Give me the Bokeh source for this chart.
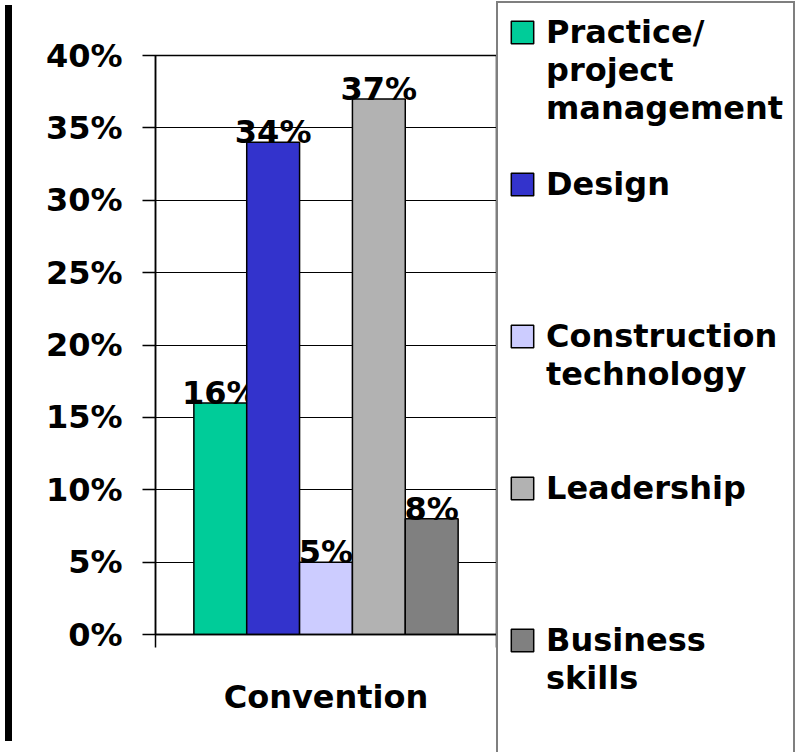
from bokeh.plotting import figure
from bokeh.models import (FactorRange, Range1d, CategoricalAxis, LinearAxis, FixedTicker,
                          NumeralTickFormatter, Legend, LegendItem, ColumnDataSource, Div)
from bokeh.transform import dodge
from bokeh.layouts import row
from bokeh.core.properties import value
from bokeh.embed import file_html
from bokeh.resources import INLINE

# ---- data ----
categories = ["Convention"]
series = ["Practice/\nproject\nmanagement", "Design", "Construction\ntechnology",
          "Leadership", "Business\nskills"]
values = [0.16, 0.34, 0.05, 0.37, 0.08]
colors = ["#00CC99", "#3333CC", "#CCCCFF", "#B2B2B2", "#808080"]
y_ticks = [0.0, 0.05, 0.10, 0.15, 0.20, 0.25, 0.30, 0.35, 0.40]

FONT = "DejaVu Sans"
FS = "32px"

p = figure(x_range=FactorRange(*categories), y_range=Range1d(0, 0.40),
           frame_width=341, frame_height=579,
           min_border_left=138, min_border_top=55, min_border_right=295, min_border_bottom=102,
           x_axis_location=None, output_backend="svg", toolbar_location=None,
           background_fill_color="white", border_fill_color="white")
p.outline_line_color = "black"
p.outline_line_width = 1.5
p.xgrid.visible = False
p.ygrid.grid_line_color = "black"
p.ygrid.grid_line_width = 1
p.ygrid.ticker = FixedTicker(ticks=y_ticks)

# y axis
ya = p.yaxis[0]
ya.ticker = FixedTicker(ticks=y_ticks)
ya.formatter = NumeralTickFormatter(format="0%")
ya.major_label_text_font = FONT
ya.major_label_text_font_style = "bold"
ya.major_label_text_font_size = FS
ya.major_label_text_color = "black"
ya.major_label_standoff = 20
ya.major_tick_out = 13
ya.major_tick_in = 0
ya.minor_tick_line_color = None
ya.axis_line_color = "black"
ya.axis_line_width = 1.5
ya.major_tick_line_color = "black"
ya.major_tick_line_width = 1.5

# x axes: ticks at the category boundaries + category label
ea = LinearAxis(ticker=FixedTicker(ticks=[0, 1]),
                major_label_text_font_size="1px", major_label_text_color="white",
                major_tick_out=13, major_tick_in=0, minor_tick_line_color=None,
                axis_line_color="black", axis_line_width=1.5,
                major_tick_line_color="black", major_tick_line_width=1.5,
                major_label_standoff=0)
p.add_layout(ea, "below")
ca = CategoricalAxis(major_tick_line_color=None, axis_line_color=None,
                     major_label_text_font=FONT, major_label_text_font_style="bold",
                     major_label_text_font_size=FS, major_label_text_color="black",
                     major_label_standoff=20)
p.add_layout(ca, "below")

# bars
n = len(series)
bw = 0.155
renderers = []
for i, (v, c) in enumerate(zip(values, colors)):
    src = ColumnDataSource(dict(cat=categories, val=[v], lab=[f"{round(v*100)}%"]))
    off = (i - (n - 1) / 2) * bw
    r = p.vbar(x=dodge("cat", off, range=p.x_range), top="val", width=bw, source=src,
               fill_color=c, line_color="black", line_width=1.5)
    p.text(x=dodge("cat", off, range=p.x_range), y="val", text="lab", source=src,
           text_font=value(FONT), text_font_style="bold", text_font_size=FS,
           text_align="center", text_baseline="alphabetic", y_offset=-10, text_color="black")
    renderers.append(r)

# invisible renderer used for legend rows that carry no swatch (wrapped lines / gaps)
blank_src = ColumnDataSource(dict(cat=categories, val=[0]))
blank = p.vbar(x="cat", top="val", width=0.01, source=blank_src,
               fill_alpha=0, line_alpha=0)

# legend: one row per text line, 4 rows per entry, swatch on the first line
ROWS = 4
items = []
for k, (name, r) in enumerate(zip(series, renderers)):
    lines = name.split("\n")
    for j in range(ROWS):
        txt = lines[j] if j < len(lines) else "\u00a0"
        items.append(LegendItem(label=txt, renderers=[r] if j == 0 else [blank]))

legend = Legend(items=items, location=(0, -151),
                label_text_font=FONT, label_text_font_style="bold", label_text_font_size=FS,
                label_text_color="black",
                glyph_width=28, glyph_height=28, label_standoff=10,
                spacing=0, padding=10, margin=6,
                border_line_color="black", border_line_width=2,
                background_fill_color="white", background_fill_alpha=1.0)
p.add_layout(legend, "right")

stripe = Div(width=7, height=736, styles={"background-color": "black"})
layout = row(stripe, p, spacing=0)

open("out.html", "w").write(file_html(layout, INLINE))
